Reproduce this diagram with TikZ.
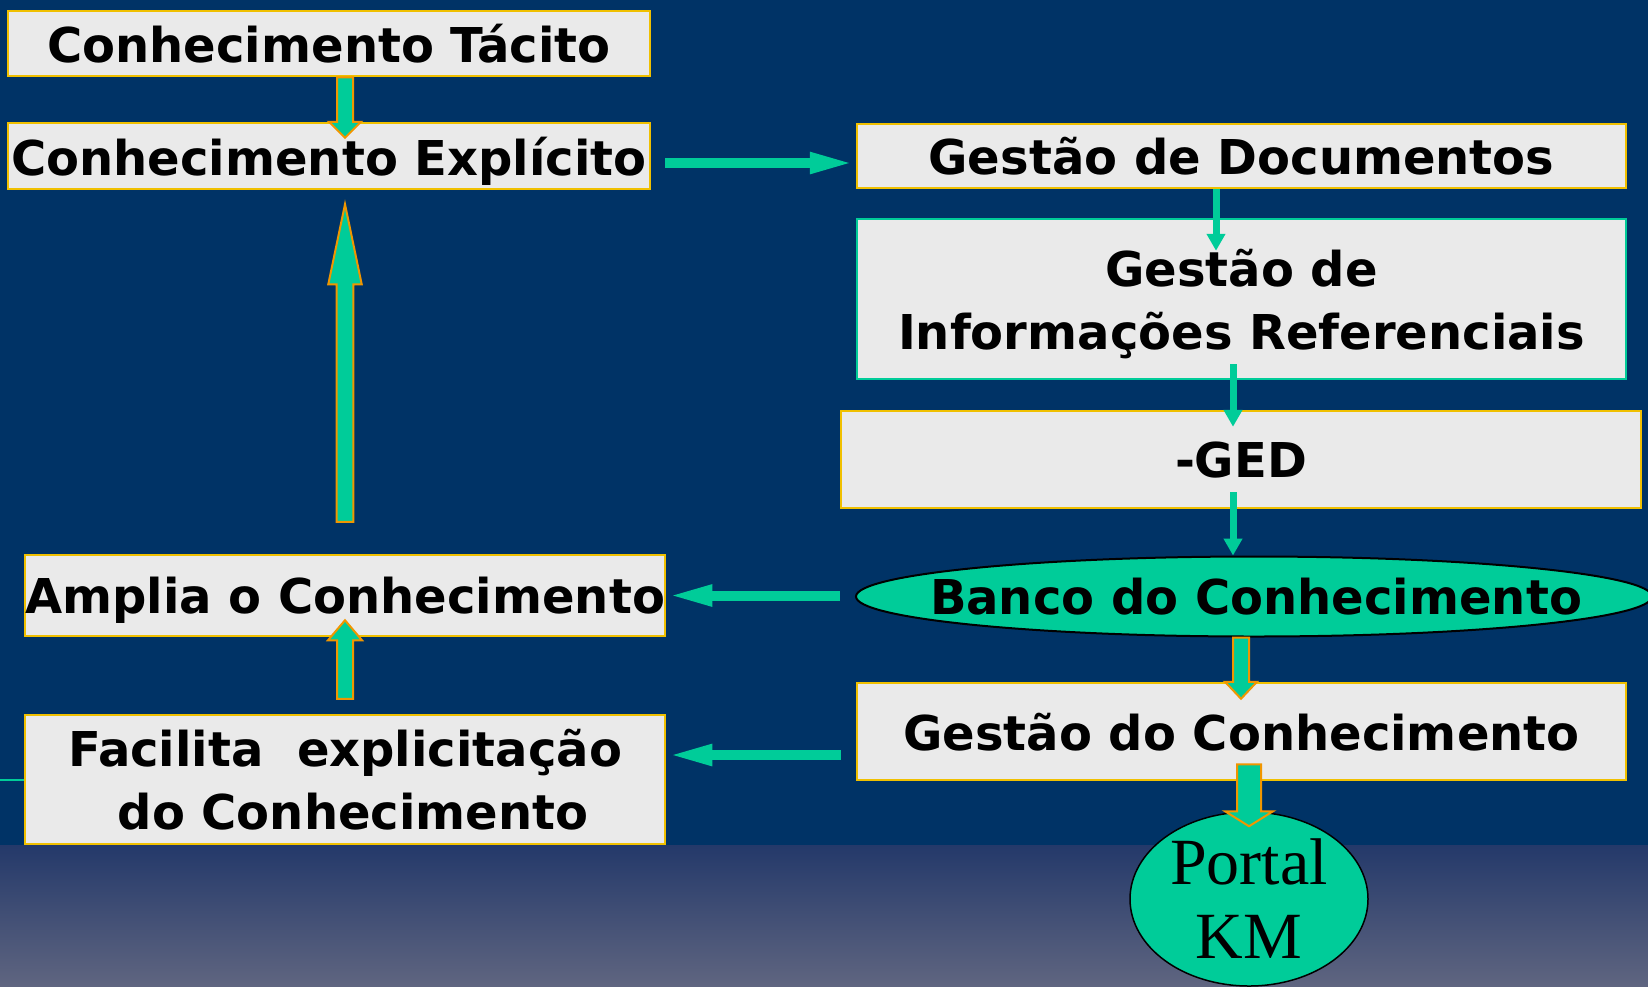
\documentclass[tikz,border=0pt]{standalone}
\usepackage{fontspec}
\setmainfont{DejaVu Sans}
\newfontfamily\serifkm{Liberation Serif}
\usetikzlibrary{shapes.geometric,arrows.meta,calc}
\definecolor{navy}{RGB}{0,51,102}
\definecolor{boxfill}{RGB}{234,234,234}
\definecolor{gold}{RGB}{240,192,0}
\definecolor{tealc}{RGB}{0,204,153}
\definecolor{orng}{RGB}{240,150,0}
\definecolor{gradtop}{RGB}{36,57,106}
\definecolor{gradbot}{RGB}{95,101,128}
\tikzset{
  box/.style={draw=gold, line width=2.5pt, fill=boxfill, inner sep=0pt, align=center,
    font=\bfseries\fontsize{48pt}{63pt}\selectfont, text=black, text depth=0pt},
  oval/.style={ellipse, draw=black, fill=tealc, inner sep=0pt, align=center, text=black},
  harr/.style={draw=tealc, line width=10pt, -{Triangle[length=46pt,width=19pt]}},
  varr/.style={draw=tealc, line width=7pt, -{Triangle[length=17pt,width=18pt]}},
  blockarr/.style={draw=orng, fill=tealc, line width=2pt, line join=miter},
}
\newcommand\blockarrow[5]{%
  \draw[blockarr] let \p1=(#1), \p2=(#2), \n1={ifthenelse(\y2>\y1,1,-1)},
    \n2={\y2-\n1*#5} in
    ({\x1-#3},\y1) -- ({\x1-#3},\n2) -- ({\x1-#4},\n2) -- (\x1,\y2)
    -- ({\x1+#4},\n2) -- ({\x1+#3},\n2) -- ({\x1+#3},\y1) -- cycle;}
\begin{document}
\begin{tikzpicture}[x=1pt,y=-1pt]
\useasboundingbox (0,0) rectangle (1648,986);
\fill[navy] (0,0) rectangle (1648,986);
\shade[top color=gradtop, bottom color=gradbot] (0,845) rectangle (1648,986);

% nodes
\node[box, minimum width=642pt, minimum height=65pt] (tacito) at (329,43.5) {Conhecimento Tácito};
\node[box, minimum width=642pt, minimum height=66pt] (explicito) at (329,156) {Conhecimento Explícito};
\node[box, minimum width=769pt, minimum height=64pt] (docs) at (1241.5,156) {Gestão de Documentos};
\node[box, draw=tealc, minimum width=769pt, minimum height=160pt] (info) at (1241.5,299) {Gestão de\\Informações Referenciais};
\node[box, minimum width=800pt, minimum height=97pt] (ged) at (1241,459.5) {-GED};
\node[oval, minimum width=796pt, minimum height=80pt, line width=2pt,
  font=\bfseries\fontsize{48pt}{63pt}\selectfont] (banco) at (1254,596.5) {\makebox[0pt]{\hspace*{4pt}Banco do Conhecimento}};
\node[box, minimum width=769pt, minimum height=97pt] (gcon) at (1241.5,731.5) {Gestão do Conhecimento};
\node[oval, minimum width=238pt, minimum height=174pt, line width=1.5pt,
  font=\serifkm\fontsize{66pt}{74pt}\selectfont] (portal) at (1249,899) {Portal\\KM};
\node[box, minimum width=640pt, minimum height=81pt] (amplia) at (345,595.5) {Amplia o Conhecimento};
\node[box, minimum width=640pt, minimum height=129pt] (facilita) at (345,779.5) {Facilita\ \ explicitação\\\hspace*{16pt}do Conhecimento};

% connector end points
\coordinate (a1s) at ($(explicito.east)+(14,7)$);
\coordinate (a1e) at ($(docs.west)+(0,7)$);
\coordinate (a2s) at ($(docs.south)+(-25.5,0)$);
\coordinate (a2e) at ($(info.north)+(-25.5,33)$);
\coordinate (a3s) at ($(info.south)+(-8.5,-16)$);
\coordinate (a3e) at ($(ged.north)+(-8,17)$);
\coordinate (a4s) at ($(ged.south)+(-8,-17)$);
\coordinate (a4e) at ($(banco.north)+(-21,0)$);
\coordinate (a5s) at ($(banco.west)+(-15,-1)$);
\coordinate (a6s) at ($(gcon.west)+(-15,23.5)$);
\coordinate (a6e) at ($(facilita.east)+(0,-24.5)$);
\coordinate (lft) at (0,779.5);

\draw[harr] (a1s) -- (a1e);
\draw[varr] (a2s) -- (a2e);
\draw[varr] (a3s) -- (a3e);
\draw[varr] (a4s) -- (a4e);
\draw[harr] (a5s) -- (amplia.east);
\draw[harr] (a6s) -- (a6e);
\draw[tealc, line width=2pt] (lft) -- (facilita.west);

% block arrows
\coordinate (b1s) at ($(tacito.south)+(16,0)$);
\coordinate (b1e) at ($(explicito.north)+(16,16)$);
\coordinate (b2s) at ($(amplia.north)+(0,-32)$);
\coordinate (b2e) at ($(explicito.south)+(16,14)$);
\coordinate (b3s) at ($(facilita.north)+(0,-15)$);
\coordinate (b3e) at ($(amplia.south)+(0,-17)$);
\coordinate (b4s) at ($(banco.south)+(-13,0)$);
\coordinate (b4e) at ($(gcon.north)+(0,17)$);
\coordinate (b5s) at ($(gcon.south)+(7.5,-17)$);
\coordinate (b5e) at ($(portal.north)+(0,15)$);
\blockarrow{b1s}{b1e}{8pt}{16pt}{16pt}
\blockarrow{b2s}{b2e}{8.3pt}{16.7pt}{80pt}
\blockarrow{b3s}{b3e}{8pt}{17pt}{20pt}
\blockarrow{b4s}{b4e}{8pt}{16pt}{17pt}
\blockarrow{b5s}{b5e}{12pt}{24pt}{15pt}
\end{tikzpicture}
\end{document}
